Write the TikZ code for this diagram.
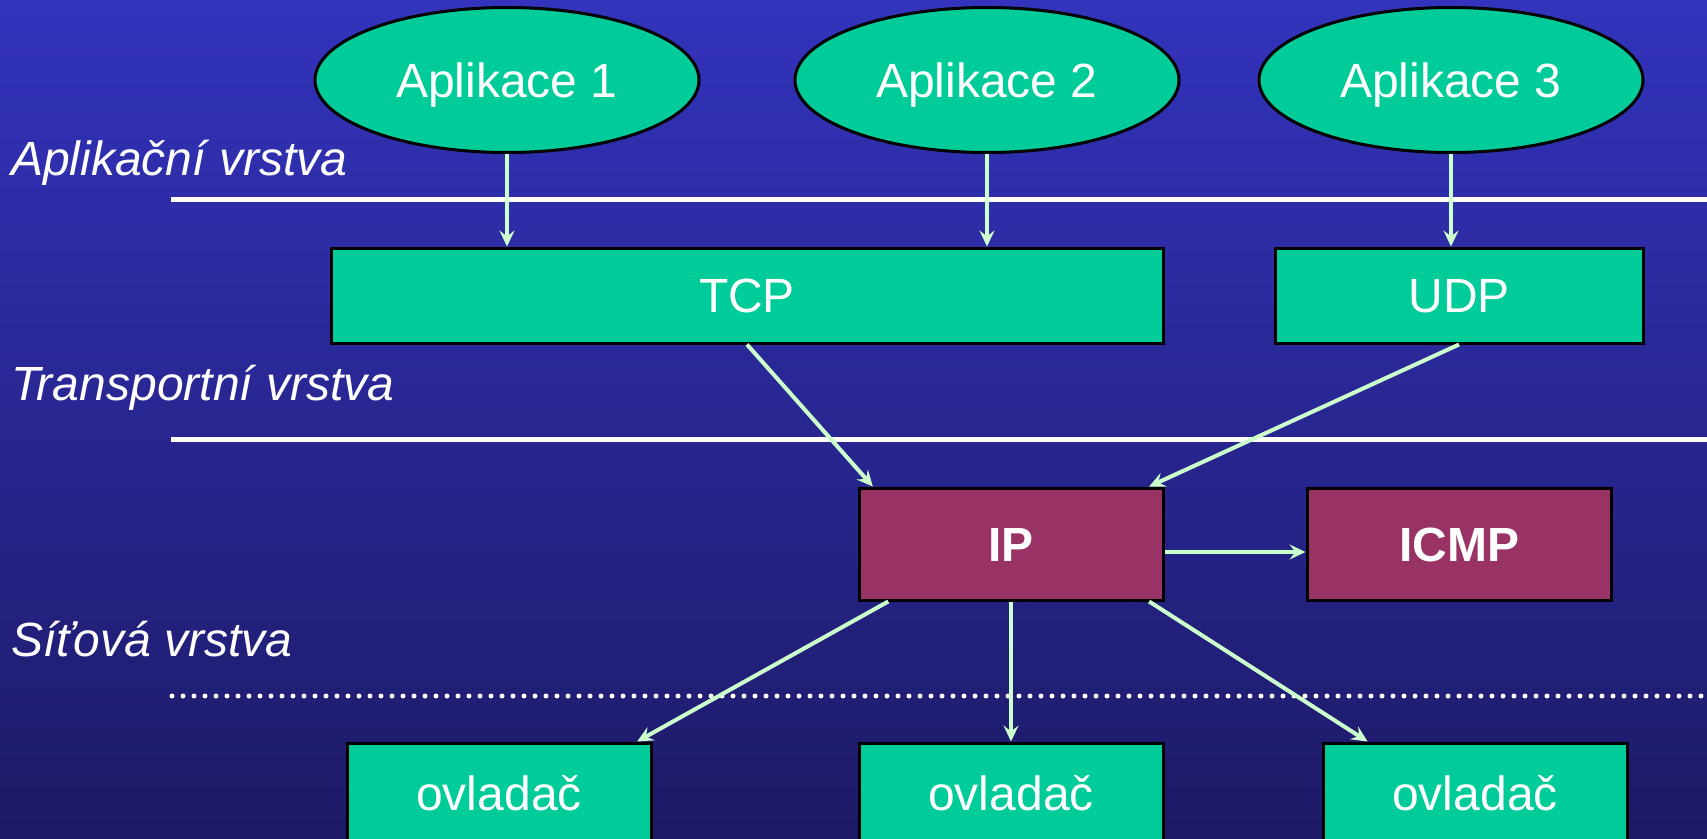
\documentclass[tikz,border=0pt]{standalone}
\usepackage{fontspec}
\setmainfont{Liberation Sans}
\usetikzlibrary{shapes.geometric,arrows.meta,calc}
\definecolor{bgtop}{RGB}{51,51,189}
\definecolor{bgbot}{RGB}{29,26,102}
\definecolor{boxgreen}{RGB}{0,204,153}
\definecolor{boxred}{RGB}{153,51,102}
\definecolor{linkgreen}{RGB}{204,255,204}

\begin{document}
\begin{tikzpicture}[x=1pt,y=-1pt,
  every node/.style={text height=34.4pt,text depth=0pt},
  app/.style={ellipse,draw=black,line width=3pt,fill=boxgreen,text=white,
    minimum width=384pt,minimum height=145pt,inner sep=0pt,font=\fontsize{48}{56}\selectfont},
  proto/.style={rectangle,draw=black,line width=3pt,fill=boxgreen,text=white,
    inner sep=0pt,font=\fontsize{48}{56}\selectfont},
  core/.style={proto,fill=boxred,font=\fontsize{48}{56}\selectfont\bfseries},
  layer/.style={anchor=west,text=white,inner sep=0pt,font=\fontsize{48}{56}\selectfont\itshape},
  link/.style={draw=linkgreen,line width=4pt,-{Stealth[length=16pt,width=15pt,inset=6pt]}},
  sep/.style={white,line width=5pt}]
  \def\W{1707};
  \def\H{838};
  \clip (0,0) rectangle (\W,\H);
  \shade[top color=bgtop,bottom color=bgbot] (0,0) rectangle (\W,\H);
  % layers
  \draw[sep] (171,199)--(\W,199);
  \draw[sep] (171,439)--(\W,439);
  \draw[sep,line cap=round,dash pattern=on 0pt off 11pt] (172,696)--(\W,696);
  \node[layer] (lapp) at (11,158.5) {Aplikační vrstva};
  \node[layer] (ltrans) at (11,383) {Transportní vrstva};
  \node[layer] (lnet) at (11,639) {Síťová vrstva};
  % applications
  \node[app] (app1) at (507,80) {Aplikace 1};
  \node[app] (app2) at (987,80) {Aplikace 2};
  \node[app] (app3) at (1451,80) {Aplikace 3};
  % protocols
  \node[proto,minimum width=832pt,minimum height=95pt] (tcp) at (747,295.5) {TCP};
  \node[proto,minimum width=368pt,minimum height=95pt] (udp) at (1459,295.5) {UDP};
  \node[core,minimum width=304pt,minimum height=112pt] (ip) at (1011,544) {IP};
  \node[core,minimum width=304pt,minimum height=112pt] (icmp) at (1459,544) {ICMP};
  % drivers
  \node[proto,minimum width=304pt,minimum height=100pt] (drv1) at (499,793) {ovladač};
  \node[proto,minimum width=304pt,minimum height=100pt] (drv2) at (1011,793) {ovladač};
  \node[proto,minimum width=304pt,minimum height=100pt] (drv3) at (1475,793) {ovladač};
  % links
  \draw[link] (app1.south)--(app1.south |- tcp.north);
  \draw[link] (app2.south)--(app2.south |- tcp.north);
  \draw[link] (app3.south)--(app3.south |- udp.north);
  \draw[link] (tcp.south)--($(ip.north west)!0.05!(ip.north east)$);
  \draw[link] (udp.south)--($(ip.north east)!0.05!(ip.north west)$);
  \draw[link] ([yshift=-8pt]ip.east)--([yshift=-8pt]icmp.west);
  \draw[link] ($(ip.south west)!0.1!(ip.south east)$)--($(drv1.north east)!0.05!(drv1.north west)$);
  \draw[link] (ip.south)--(drv2.north);
  \draw[link] ($(ip.south east)!0.05!(ip.south west)$)--($(drv3.north west)!0.15!(drv3.north east)$);
\end{tikzpicture}
\end{document}
